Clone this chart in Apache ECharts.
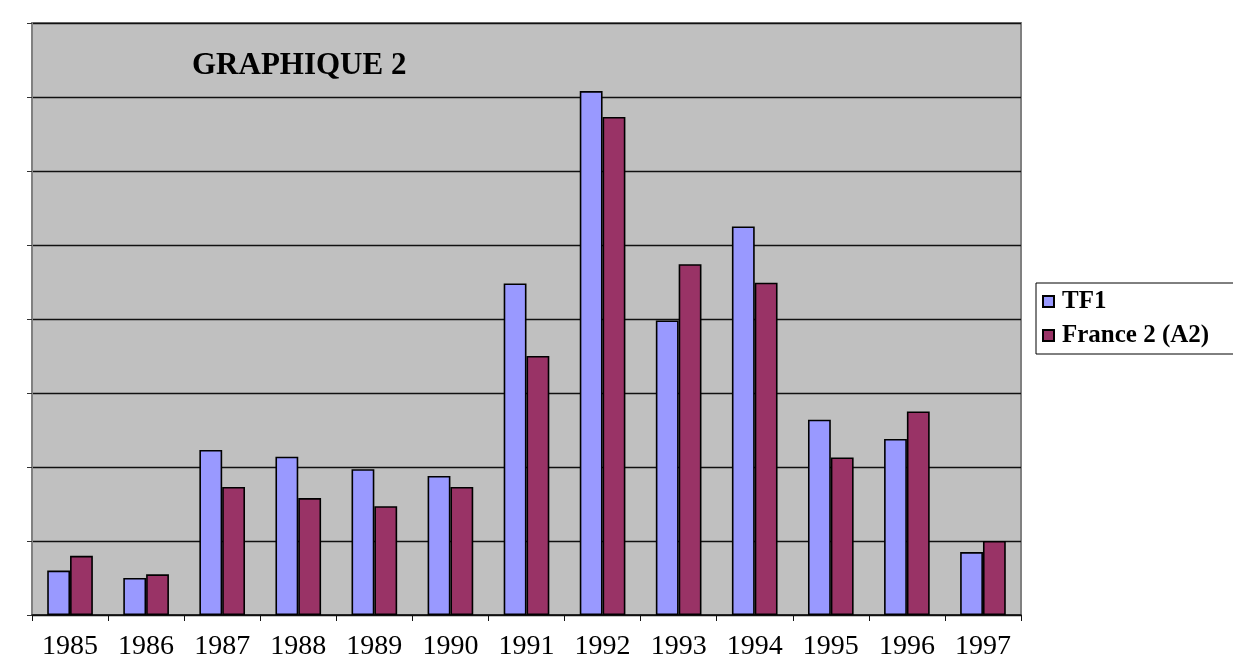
<!DOCTYPE html>
<html lang="fr">
<head>
    <meta charset="UTF-8">
    <title>Graphique 2</title>
    <script src="https://cdn.jsdelivr.net/npm/echarts@6/dist/echarts.min.js"></script>
    <style type="text/css">
        html, body { margin: 0; padding: 0; background: #fff; }
        #main { width: 1233px; height: 654px; }
    </style>
</head>
<body>
<div id="main"></div>
<script type="text/javascript">
    // donnees
    var annees = ['1985', '1986', '1987', '1988', '1989', '1990', '1991', '1992', '1993', '1994', '1995', '1996', '1997'];
    var tf1 = [0.6, 0.5, 2.23, 2.14, 1.97, 1.88, 4.48, 7.08, 3.98, 5.25, 2.64, 2.38, 0.85];
    var france2 = [0.8, 0.55, 1.73, 1.58, 1.47, 1.73, 3.5, 6.73, 4.74, 4.49, 2.13, 2.75, 1.0];
    var yMax = 8;

    var police = '"Liberation Serif", "Times New Roman", serif';
    var myChart = echarts.init(document.getElementById('main'));

    var option = {
        backgroundColor: '#fff',
        animation: false,
        title: {
            text: 'GRAPHIQUE 2',
            left: 187,
            top: 45,
            textStyle: { fontFamily: police, fontWeight: 'bold', fontSize: 31, color: '#000' }
        },
        legend: {
            orient: 'vertical',
            left: 1036,
            top: 283,
            padding: [6, 40, 6, 6],
            itemGap: 9,
            itemWidth: 11,
            itemHeight: 11,
            icon: 'rect',
            borderColor: '#000',
            borderWidth: 1,
            backgroundColor: '#fff',
            itemStyle: { borderColor: '#000', borderWidth: 2 },
            textStyle: { fontFamily: police, fontWeight: 'bold', fontSize: 25, color: '#000', padding: [0, 0, 0, 3] },
            data: ['TF1', 'France 2 (A2)']
        },
        grid: {
            left: 32, top: 23, right: 212, bottom: 39,
            outerBoundsMode: 'none',
            containLabel: false,
            show: true,
            backgroundColor: '#c0c0c0',
            borderColor: '#808080',
            borderWidth: 2
        },
        xAxis: {
            type: 'category',
            data: annees,
            axisLine: { lineStyle: { color: '#111', width: 1.5 } },
            axisTick: { show: true, length: 6, lineStyle: { color: '#111' } },
            axisLabel: { margin: 18, fontFamily: police, fontSize: 28, color: '#000' }
        },
        yAxis: {
            type: 'value',
            min: 0,
            max: yMax,
            interval: 1,
            axisLine: { show: true, lineStyle: { color: '#808080', width: 2 } },
            axisTick: { show: true, length: 5, lineStyle: { color: '#333' } },
            axisLabel: { show: false },
            splitLine: { lineStyle: { color: '#111', width: 1.3 } }
        },
        series: [{
            name: 'TF1',
            type: 'bar',
            data: tf1,
            barGap: 0,
            barCategoryGap: '40%',
            itemStyle: { color: '#9999ff', borderColor: '#000', borderWidth: 1.6 }
        }, {
            name: 'France 2 (A2)',
            type: 'bar',
            data: france2,
            barGap: 0,
            barCategoryGap: '40%',
            itemStyle: { color: '#993366', borderColor: '#000', borderWidth: 1.6 }
        }]
    };

    myChart.setOption(option);
</script>
</body>
</html>
